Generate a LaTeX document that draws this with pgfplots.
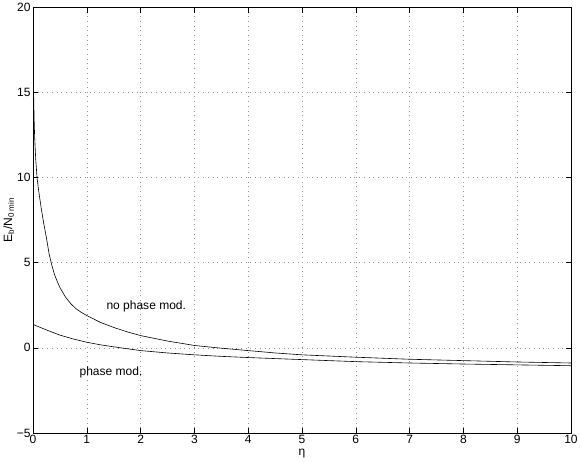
\documentclass[border=0pt]{standalone}
\usepackage{pgfplots}
\pgfplotsset{compat=1.18}
\usepackage{fontspec}
\setmainfont{Liberation Sans}
\begin{document}
\begin{tikzpicture}
\begin{axis}[
  scale only axis,
  width=535bp, height=423bp,
  xmin=0, xmax=10, ymin=-5, ymax=20,
  xtick={0,1,...,10}, ytick={-5,0,5,10,15,20},
  yticklabels={−5,0,5,10,15,20},
  tick align=inside, tick pos=both,
  major tick length=5bp,
  grid=major,
  major grid style={dash pattern=on 0.9bp off 3.8bp, gray!85, line width=0.6pt},
  axis line style={line width=0.6pt},
  every tick/.style={black, line width=0.6pt},
  tick label style={font=\fontsize{12}{14}\selectfont},
  label style={font=\fontsize{12}{14}\selectfont},
  /pgf/number format/assume math mode=true,
  xticklabel style={yshift=1bp},
  yticklabel style={xshift=1bp},
  xlabel={η}, ylabel={E\textsubscript{b}/N\textsubscript{0 min}},
  xlabel style={yshift=2bp},
  ylabel style={yshift=-4bp},
]
\addplot[black, line width=0.6pt] coordinates {
(0.002,18.5) (0.006,16.5) (0.012,14.8) (0.02,13.5) (0.03,12.4) (0.05,11.1)
(0.075,10.0) (0.1,9.35) (0.15,8.25) (0.2,7.3) (0.25,6.45) (0.3,5.5)
(0.35,4.85) (0.4,4.3) (0.45,3.9) (0.5,3.55) (0.6,3.0) (0.7,2.6) (0.8,2.3)
(0.9,2.08) (1.0,1.9) (1.25,1.5) (1.5,1.2) (1.75,0.94) (2,0.72) (2.5,0.4)
(3,0.14) (3.5,-0.02) (4,-0.16) (4.5,-0.3) (5,-0.41) (6,-0.55) (7,-0.67)
(8,-0.75) (9,-0.83) (10,-0.89)
};
\addplot[black, line width=0.6pt] coordinates {
(0,1.38) (0.25,1.05) (0.5,0.75) (0.75,0.52) (1,0.33) (1.25,0.18) (1.5,0.06)
(2,-0.16) (2.5,-0.3) (3,-0.41) (3.5,-0.5) (4,-0.57) (5,-0.69) (6,-0.81)
(7,-0.89) (8,-0.95) (9,-1.0) (10,-1.05)
};
\node[anchor=west, font=\fontsize{12}{14}\selectfont] at (axis cs:1.3,2.43) {no phase mod.};
\node[anchor=west, font=\fontsize{12}{14}\selectfont] at (axis cs:0.8,-1.42) {phase mod.};
\end{axis}
\end{tikzpicture}
\end{document}
